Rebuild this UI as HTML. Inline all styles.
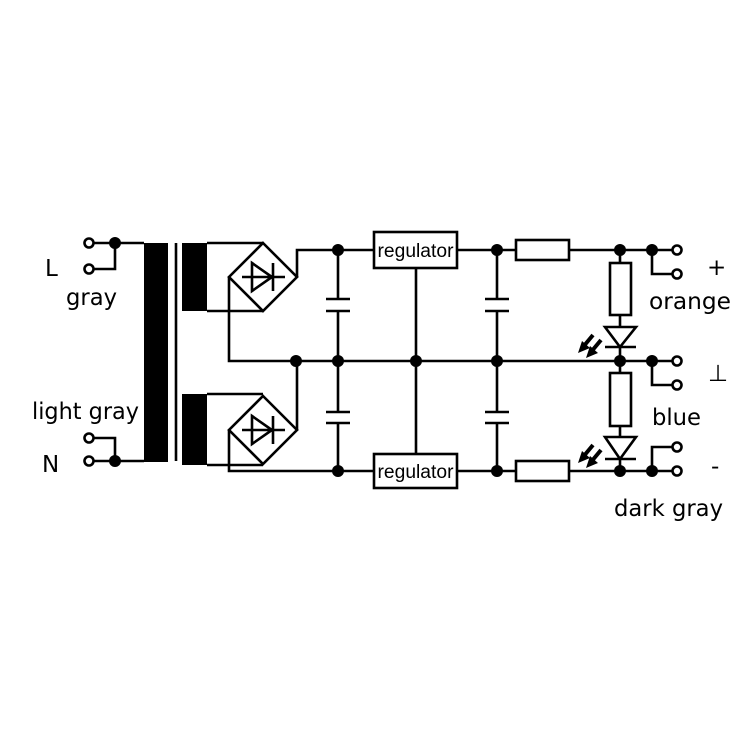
<!DOCTYPE html>
<html><head><style>
html,body{margin:0;padding:0;background:#fff;}
svg{display:block;}
text{font-family:"DejaVu Sans","Liberation Sans",sans-serif;font-size:23px;fill:#000;}
.r{font-family:"Liberation Sans Narrow","Liberation Sans",sans-serif;font-size:19px;}
</style></head><body>
<svg width="750" height="750" viewBox="0 0 750 750" xmlns="http://www.w3.org/2000/svg">
<g stroke="#000" stroke-width="2.6" fill="none">
<path d="M93 243H144 M115 243V269H93 M93 438H115V461 M93 461H144"/>
<circle cx="89" cy="243" r="4.5" fill="#fff"/><circle cx="89" cy="269" r="4.5" fill="#fff"/>
<circle cx="89" cy="438" r="4.5" fill="#fff"/><circle cx="89" cy="461" r="4.5" fill="#fff"/>
<path d="M176 243V461"/>
<path d="M207 243H263 M207 311H263 M207 394H263 M207 465H263"/>
<path d="M263 243L297 277L263 311L229 277Z"/>
<path d="M263 396L297 430L263 464L229 430Z"/>
<path d="M242 277H285 M273 263V291 M252 263L272 277L252 291Z"/>
<path d="M242 430H285 M273 416V444 M252 416L272 430L252 444Z"/>
<path d="M229 277V361H620 M297 277V250H374 M297 430V361 M229 430V471H374"/>
<path d="M457 250H516 M569 250H677 M457 471H516 M569 471H677"/>
<rect x="374" y="232" width="83" height="36" fill="#fff"/>
<rect x="374" y="454" width="83" height="34" fill="#fff"/>
<path d="M416 268V454"/>
<path d="M338 250V299 M338 311V412 M338 423V471 M326 299H350 M326 311H350 M326 412H350 M326 423H350"/>
<path d="M497 250V299 M497 311V412 M497 423V471 M485 299H509 M485 311H509 M485 412H509 M485 423H509"/>
<rect x="516" y="240" width="53" height="20" fill="#fff"/>
<rect x="516" y="461" width="53" height="20" fill="#fff"/>
<path d="M620 250V263 M620 315V361 M620 361V373 M620 426V471"/>
<rect x="610" y="263" width="21" height="52" fill="#fff"/>
<rect x="610" y="373" width="21" height="53" fill="#fff"/>
<path d="M605 327H636L620 347Z M605 347H636" fill="#fff"/>
<path d="M605 437H636L620 459Z M605 459H636" fill="#fff"/>
<path d="M620 361H677 M652 250V274H677 M652 361V385H677 M652 471V447H677"/>
<circle cx="677" cy="250" r="4.5" fill="#fff"/><circle cx="677" cy="274" r="4.5" fill="#fff"/>
<circle cx="677" cy="361" r="4.5" fill="#fff"/><circle cx="677" cy="385" r="4.5" fill="#fff"/>
<circle cx="677" cy="447" r="4.5" fill="#fff"/><circle cx="677" cy="471" r="4.5" fill="#fff"/>
<path d="M593 335L583 347 M601 340L591 352 M593 445L583 457 M601 450L591 462" stroke-width="4"/>
</g>
<g fill="#000">
<rect x="144" y="243" width="24" height="219"/>
<rect x="182" y="243" width="25" height="68"/>
<rect x="182" y="394" width="25" height="71"/>
<path d="M578 353L582 341L590 348Z M586 358L590 346L598 353Z"/>
<path d="M578 463L582 451L590 458Z M586 468L590 456L598 463Z"/>
<circle cx="115" cy="243" r="6"/><circle cx="115" cy="461" r="6"/>
<circle cx="296" cy="361" r="6"/><circle cx="338" cy="250" r="6"/><circle cx="338" cy="361" r="6"/><circle cx="338" cy="471" r="6"/>
<circle cx="416" cy="361" r="6"/>
<circle cx="497" cy="250" r="6"/><circle cx="497" cy="361" r="6"/><circle cx="497" cy="471" r="6"/>
<circle cx="620" cy="250" r="6"/><circle cx="620" cy="361" r="6"/><circle cx="620" cy="471" r="6"/>
<circle cx="652" cy="250" r="6"/><circle cx="652" cy="361" r="6"/><circle cx="652" cy="471" r="6"/>
</g>
<text class="r" x="415.5" y="257" text-anchor="middle" textLength="76" lengthAdjust="spacingAndGlyphs">regulator</text>
<text class="r" x="415.5" y="478" text-anchor="middle" textLength="76" lengthAdjust="spacingAndGlyphs">regulator</text>
<text x="45" y="276">L</text>
<text x="66" y="305" textLength="51" lengthAdjust="spacingAndGlyphs">gray</text>
<text x="32" y="419" textLength="107" lengthAdjust="spacingAndGlyphs">light gray</text>
<text x="42" y="472">N</text>
<text x="707" y="275">+</text>
<text x="649" y="309" textLength="82" lengthAdjust="spacingAndGlyphs">orange</text>
<text x="708" y="381">⊥</text>
<text x="652" y="425" textLength="49" lengthAdjust="spacingAndGlyphs">blue</text>
<text x="711" y="474">-</text>
<text x="614" y="516" textLength="109" lengthAdjust="spacingAndGlyphs">dark gray</text>
</svg>
</body></html>
